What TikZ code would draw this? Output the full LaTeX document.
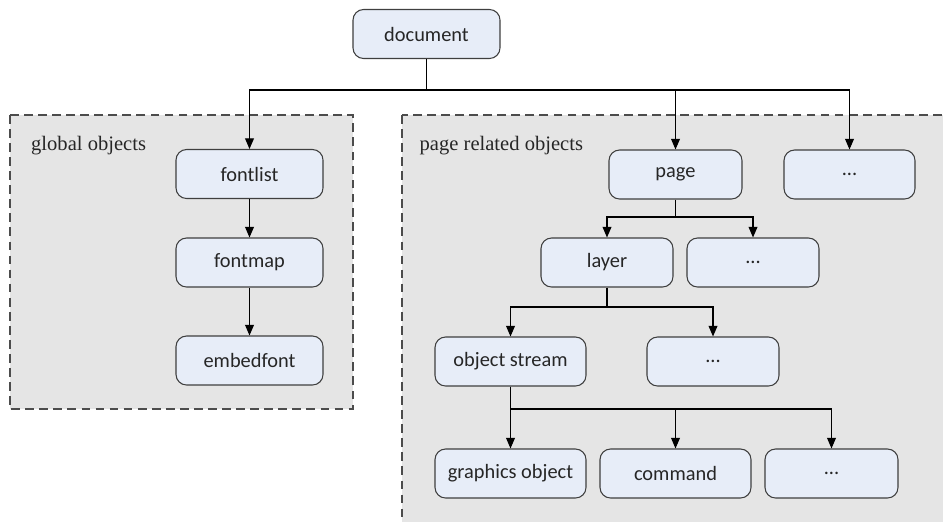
\documentclass[tikz,border=0pt]{standalone}
\usepackage{fontspec}
\setmainfont{Liberation Serif}
\newfontfamily\boxfont{Carlito}
\usetikzlibrary{arrows.meta, positioning, calc}
\definecolor{boxfill}{HTML}{E7EDF8}
\definecolor{groupfill}{HTML}{E5E5E5}
\definecolor{boxline}{HTML}{3F3F3F}

\begin{document}
\begin{tikzpicture}[
    obj/.style={rectangle, rounded corners=6pt, draw=boxline, fill=boxfill, line width=0.6pt,
      minimum height=0.98cm, minimum width=2.64cm, inner sep=0pt,
      font=\boxfont\fontsize{11.6}{14}\selectfont, text=black!85},
    wideobj/.style={obj, minimum width=3.02cm},
    group/.style={draw=black!70, fill=groupfill, dashed, dash pattern=on 5pt off 3pt, line width=0.7pt},
    grouplabel/.style={anchor=west, font=\fontsize{11.7}{14}\selectfont, text=black!85},
    arr/.style={-{Triangle[length=6pt,width=5pt]}, line width=0.6pt, black}
  ]
  \clip (0,0) rectangle (18.86,-10.42);
  \useasboundingbox (0,0) rectangle (18.86,-10.42);

  % Dashed groups
  \draw[group] (0.2,-2.3) rectangle (7.06,-8.18);
  \draw[group] (8.04,-2.3) rectangle (19.5,-11);
  \node[grouplabel] (globallabel) at (0.5,-2.92) {global objects};
  \node[grouplabel] (pagelabel) at (8.27,-2.92) {page related objects};

  % Root
  \node[obj, minimum width=2.94cm] (document) at (8.53,-0.68) {document};

  % Global objects
  \node[obj, minimum width=2.94cm] (fontlist) at (4.99,-3.48) {fontlist};
  \node[obj, minimum width=2.94cm] (fontmap) at (4.99,-5.25) {fontmap};
  \node[obj, minimum width=2.94cm] (embedfont) at (4.99,-7.21) {embedfont};

  % Page related objects
  \node[obj, minimum width=2.66cm] (page) at (13.51,-3.49) {page};
  \node[obj, minimum width=2.62cm] (docmore) at (16.99,-3.49) {...};
  \node[obj] (layer) at (12.14,-5.25) {layer};
  \node[obj] (pagemore) at (15.06,-5.25) {...};
  \node[wideobj] (stream) at (10.21,-7.23) {object stream};
  \node[obj] (layermore) at (14.26,-7.23) {...};
  \node[wideobj] (graphics) at (10.21,-9.47) {graphics object};
  \node[wideobj] (command) at (13.51,-9.47) {command};
  \node[obj, minimum width=2.66cm] (streammore) at (16.63,-9.47) {...};

  % Branch points
  \coordinate (docsplit) at (8.53,-1.8);
  \coordinate (pagesplit) at (13.51,-4.34);
  \coordinate (layersplit) at (12.14,-6.14);
  \coordinate (streamsplit) at (10.21,-8.18);

  % Connectors
  \draw[arr] (document.south) -- (docsplit) -| (fontlist.north);
  \draw[arr] (document.south) -- (docsplit) -| (page.north);
  \draw[arr] (document.south) -- (docsplit) -| (docmore.north);
  \draw[arr] (fontlist) -- (fontmap);
  \draw[arr] (fontmap) -- (embedfont);
  \draw[arr] (page.south) -- (pagesplit) -| (layer.north);
  \draw[arr] (pagesplit) -| (pagemore.north);
  \draw[arr] (layer.south) -- (layersplit) -| (stream.north);
  \draw[arr] (layersplit) -| (layermore.north);
  \draw[arr] (stream.south) -- (streamsplit) -| (graphics.north);
  \draw[arr] (stream.south) -- (streamsplit) -| (command.north);
  \draw[arr] (stream.south) -- (streamsplit) -| (streammore.north);
\end{tikzpicture}
\end{document}
